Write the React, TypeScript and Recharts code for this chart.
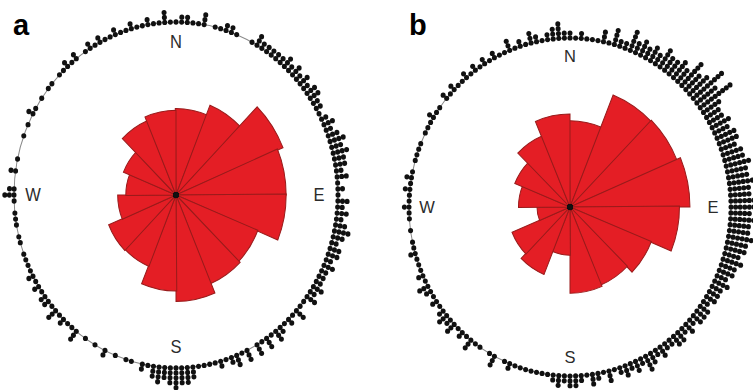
import {
  RadialBarChart,
  RadialBar,
  RadarChart,
  Radar,
  PolarAngleAxis,
  PolarRadiusAxis,
  PolarGrid,
} from 'recharts';

// 16 sectors, clockwise from north
const DIRECTIONS = ['N', 'NNE', 'NE', 'ENE', 'E', 'ESE', 'SE', 'SSE', 'S', 'SSW', 'SW', 'WSW', 'W', 'WNW', 'NW', 'NNW'];
const ROSE_A = [10.0, 11.2, 14.3, 13.6, 13.6, 10.9, 11.1, 12.3, 11.1, 8.9, 9.0, 7.2, 6.2, 7.0, 9.3, 9.8];
const ROSE_B = [10.2, 14.3, 14.4, 14.9, 13.6, 10.9, 10.0, 10.2, 5.7, 8.6, 7.8, 4.1, 6.4, 7.4, 9.1, 11.0];
const ROSE_MAX = 20;

// individual observations, counted in 2° bins (clockwise from N), one quadrant per list
const DOTS_A_NE = [1, 2, 2, 1, 1, 3, 0, 1, 1, 2, 2, 1, 0, 0, 1, 3, 2, 2, 2, 2, 2, 3, 2, 3, 2, 3, 2, 3, 3, 2, 2, 1, 2, 3, 2, 3, 4, 3, 4, 3, 3, 2, 3, 1, 2];
const DOTS_A_SE = [1, 3, 2, 3, 2, 3, 4, 3, 2, 3, 3, 2, 3, 2, 2, 2, 3, 2, 3, 1, 1, 3, 1, 2, 1, 2, 3, 1, 3, 1, 3, 0, 3, 1, 3, 2, 1, 2, 1, 1, 1, 1, 3, 4, 4];
const DOTS_A_SW = [5, 4, 3, 4, 3, 1, 2, 0, 1, 1, 0, 1, 0, 2, 0, 1, 0, 1, 0, 3, 1, 1, 2, 1, 3, 1, 2, 2, 1, 2, 1, 2, 1, 1, 1, 1, 0, 1, 1, 0, 1, 1, 1, 0, 1];
const DOTS_A_NW = [3, 2, 0, 0, 2, 0, 1, 0, 0, 0, 1, 0, 1, 0, 2, 1, 0, 1, 0, 1, 1, 0, 1, 1, 2, 1, 2, 0, 1, 2, 1, 2, 1, 1, 2, 1, 1, 2, 1, 1, 2, 1, 1, 3, 1];

const DOTS_B_NE = [2, 1, 2, 1, 1, 1, 3, 1, 4, 2, 2, 5, 3, 4, 3, 4, 3, 5, 4, 4, 5, 4, 7, 5, 6, 9, 6, 9, 5, 4, 4, 5, 4, 5, 5, 4, 5, 5, 6, 5, 5, 6, 5, 5, 6];
const DOTS_B_SE = [7, 5, 6, 5, 5, 6, 5, 5, 4, 5, 4, 4, 3, 4, 3, 3, 3, 2, 3, 3, 3, 2, 3, 2, 3, 3, 2, 2, 3, 2, 3, 4, 2, 3, 2, 3, 2, 1, 3, 1, 2, 3, 1, 2, 3];
const DOTS_B_SW = [3, 2, 3, 2, 1, 1, 1, 1, 1, 1, 1, 2, 1, 0, 3, 1, 0, 1, 1, 3, 1, 2, 1, 3, 2, 3, 2, 1, 2, 1, 2, 3, 1, 2, 1, 1, 1, 2, 1, 1, 0, 1, 0, 1, 1];
const DOTS_B_NW = [2, 1, 1, 2, 1, 2, 1, 0, 1, 1, 1, 1, 0, 1, 1, 1, 2, 1, 1, 0, 2, 1, 2, 1, 1, 2, 1, 2, 1, 2, 1, 2, 1, 1, 3, 1, 2, 1, 3, 2, 1, 2, 3, 4, 2];

const COMPASS = ['N', 'E', 'S', 'W'];
const COMPASS_DEG = [0, 90, 180, 270];

const BOX = 440;
const DOT_STEP = 4.6;
const MAX_LEVEL = 10;
const LABEL_R = 143;

const renderDot = (props: any) => {
  const { cx, cy, dataKey, index } = props;
  if (!Number.isFinite(cx) || !Number.isFinite(cy)) return null;
  return <circle key={`${dataKey}-${index}`} cx={cx} cy={cy} r={2.5} fill="#111" stroke="none" />;
};

const renderCompass = (props: any) => {
  const i = COMPASS_DEG.indexOf(Number(props.payload?.value));
  if (i < 0) return <g />;
  return (
    <text
      x={props.x}
      y={props.y}
      textAnchor="middle"
      dominantBaseline="central"
      fontSize={16.5}
      fill="#2b2b2b"
      fontFamily="'Liberation Sans', Arial, sans-serif"
    >
      {COMPASS[i]}
    </text>
  );
};

interface PanelProps {
  cx: number;
  cy: number;
  radius: number;
  stretch: number;
  rose: number[];
  dots: number[];
}

function Panel({ cx, cy, radius, stretch, rose, dots }: PanelProps) {
  const half = BOX / 2;
  const roseData = DIRECTIONS.map((dir, i) => ({ dir, value: rose[i] }));
  const levels = Math.max(...dots);
  const dotData = dots.map((n, i) => {
    const row: Record<string, number> = { deg: i * 2 };
    for (let k = 0; k < n; k++) row[`l${k}`] = k;
    return row;
  });
  const outer = radius + MAX_LEVEL * DOT_STEP;

  return (
    <div
      style={{
        position: 'absolute',
        left: cx - half,
        top: cy - half,
        width: BOX,
        height: BOX,
        transform: `scaleY(${stretch})`,
        transformOrigin: 'center',
      }}
    >
      <div style={{ position: 'absolute', left: 0, top: 0 }}>
        {/* bands are drawn one step anticlockwise of their tick, so the sweep starts at 67.5 */}
        <RadialBarChart
          width={BOX}
          height={BOX}
          cx={half}
          cy={half}
          innerRadius={0}
          outerRadius={radius}
          startAngle={67.5}
          endAngle={-292.5}
          layout="centric"
          data={roseData}
          barCategoryGap={0}
          barGap={0}
          margin={{ top: 0, right: 0, bottom: 0, left: 0 }}
        >
          <PolarAngleAxis type="category" dataKey="dir" tick={false} tickLine={false} axisLine={false} />
          <PolarRadiusAxis type="number" domain={[0, ROSE_MAX]} tick={false} axisLine={false} />
          <RadialBar dataKey="value" fill="#E41E25" stroke="#991b1b" strokeWidth={1} isAnimationActive={false} />
        </RadialBarChart>
      </div>
      <div
        style={{
          position: 'absolute',
          left: half - 2.5,
          top: half - 2.5,
          width: 5,
          height: 5,
          borderRadius: '50%',
          background: '#111',
        }}
      />
      <div style={{ position: 'absolute', left: 0, top: 0 }}>
        <RadarChart
          width={BOX}
          height={BOX}
          cx={half}
          cy={half}
          outerRadius={outer}
          startAngle={90}
          endAngle={-270}
          data={dotData}
          margin={{ top: 0, right: 0, bottom: 0, left: 0 }}
        >
          <PolarGrid gridType="circle" radialLines={false} polarRadius={[radius]} stroke="#8a8a8a" strokeWidth={1} />
          <PolarAngleAxis
            dataKey="deg"
            type="category"
            orientation="inner"
            tickSize={outer - LABEL_R}
            axisLine={false}
            tickLine={false}
            tick={renderCompass}
          />
          <PolarRadiusAxis type="number" domain={[-radius / DOT_STEP, MAX_LEVEL]} tick={false} axisLine={false} />
          {Array.from({ length: levels }, (_, k) => (
            <Radar
              key={k}
              dataKey={`l${k}`}
              stroke="none"
              fill="none"
              dot={renderDot}
              isAnimationActive={false}
            />
          ))}
        </RadarChart>
      </div>
    </div>
  );
}

export default function App() {
  return (
    <div
      style={{
        position: 'absolute',
        left: 0,
        top: 0,
        width: 753,
        height: 390,
        overflow: 'hidden',
        background: '#fff',
      }}
    >
      <Panel
        cx={175.5}
        cy={194.5}
        radius={162}
        stretch={1.068}
        rose={ROSE_A}
        dots={[...DOTS_A_NE, ...DOTS_A_SE, ...DOTS_A_SW, ...DOTS_A_NW]}
      />
      <Panel
        cx={570}
        cy={207}
        radius={161}
        stretch={1.05}
        rose={ROSE_B}
        dots={[...DOTS_B_NE, ...DOTS_B_SE, ...DOTS_B_SW, ...DOTS_B_NW]}
      />
      <svg width={753} height={390} style={{ position: 'absolute', left: 0, top: 0, pointerEvents: 'none' }}>
        <text x={13} y={35} fontSize={29} fontWeight="bold" fontFamily="'Liberation Sans', Arial, sans-serif" fill="#000">
          a
        </text>
        <text x={409} y={35} fontSize={29} fontWeight="bold" fontFamily="'Liberation Sans', Arial, sans-serif" fill="#000">
          b
        </text>
      </svg>
    </div>
  );
}
